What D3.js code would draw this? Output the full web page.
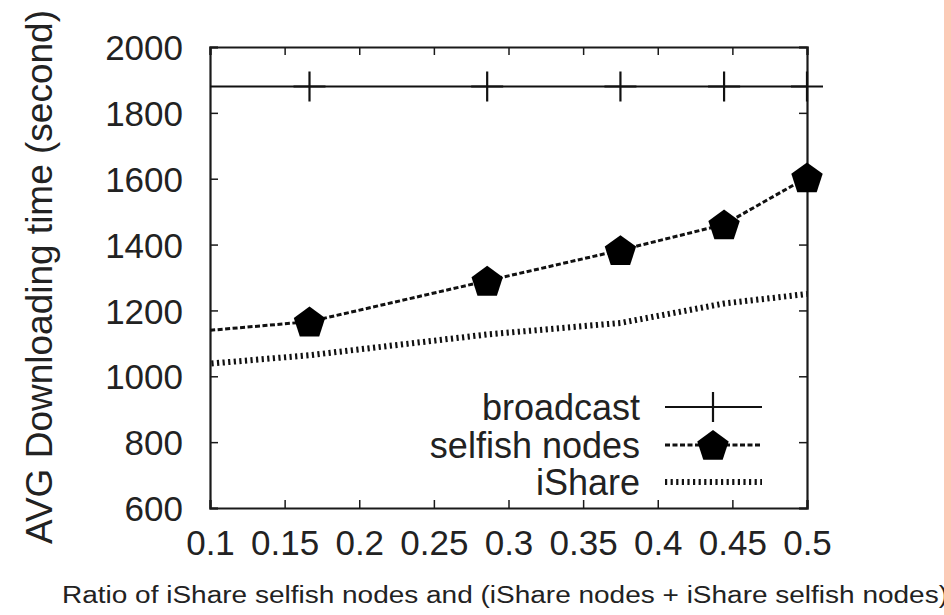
<!DOCTYPE html>
<html lang="en">
<head>
    <meta charset="UTF-8">
    <title>AVG Downloading time</title>
    <style>
        body {
            margin: 0;
            background-color: white;
            font-family: "Liberation Sans", Arial, sans-serif;
        }
        #strip {
            position: absolute;
            left: 944px;
            top: 0;
            width: 7px;
            height: 615px;
            background-color: #fccab7;
        }
    </style>
    <script src="https://d3js.org/d3.v7.min.js"></script>
</head>
<body>
    <div id="chart"></div>
    <div id="strip"></div>
    <script>
        // data (first point at x=0 lies outside the shown range)
        const ratios = [0, 1/6, 2/7, 3/8, 4/9, 1/2];
        const broadcast = [1880, 1880, 1880, 1880, 1880, 1880];
        const selfish = [1100, 1166, 1290, 1383, 1461, 1604];
        const ishare = [1000, 1064, 1127, 1162, 1221, 1250];

        const xTicks = [0.1, 0.15, 0.2, 0.25, 0.3, 0.35, 0.4, 0.45, 0.5];
        const yTicks = [600, 800, 1000, 1200, 1400, 1600, 1800, 2000];
        const legendNames = ["broadcast", "selfish nodes", "iShare"];

        const width = 951, height = 615;
        const plotLeft = 210, plotRight = 807, plotTop = 47, plotBottom = 508;
        const textColor = "#222";

        const svg = d3.select("#chart").append("svg")
            .attr("width", width)
            .attr("height", height)
            .style("display", "block");

        const x = d3.scaleLinear().domain([0.1, 0.5]).range([plotLeft, plotRight]);
        const y = d3.scaleLinear().domain([600, 2000]).range([plotBottom, plotTop]);

        svg.append("clipPath").attr("id", "plot")
            .append("rect")
            .attr("x", plotLeft).attr("y", plotTop)
            .attr("width", plotRight - plotLeft).attr("height", plotBottom - plotTop);

        // axes with inward ticks, gnuplot style box
        const tickFont = "35px";
        const xAxis = svg.append("g")
            .attr("transform", `translate(0,${plotBottom})`)
            .call(d3.axisBottom(x).tickValues(xTicks).tickSize(-8).tickPadding(22).tickFormat(d3.format("")));
        const xTop = svg.append("g")
            .attr("transform", `translate(0,${plotTop})`)
            .call(d3.axisTop(x).tickValues(xTicks).tickSize(-8).tickFormat(""));
        const yAxis = svg.append("g")
            .attr("transform", `translate(${plotLeft},0)`)
            .call(d3.axisLeft(y).tickValues(yTicks).tickSize(-8).tickPadding(27).tickFormat(d3.format("d")));
        const yRight = svg.append("g")
            .attr("transform", `translate(${plotRight},0)`)
            .call(d3.axisRight(y).tickValues(yTicks).tickSize(-8).tickFormat(""));

        [xAxis, xTop, yAxis, yRight].forEach(g => {
            g.select(".domain").attr("stroke", "#1a1a1a").attr("stroke-width", 2.2);
            g.selectAll(".tick line").attr("stroke", "#1a1a1a").attr("stroke-width", 1.5);
            g.selectAll("text")
                .attr("font-family", "'Liberation Sans', Arial, sans-serif")
                .attr("font-size", tickFont)
                .attr("fill", textColor);
        });
        yAxis.selectAll("text").attr("dy", "0.36em");

        // axis titles
        svg.append("text")
            .attr("transform", "translate(52,277) rotate(-90)")
            .attr("text-anchor", "middle")
            .attr("font-size", "37px")
            .attr("fill", textColor)
            .text("AVG Downloading time (second)");

        svg.append("text")
            .attr("x", 62)
            .attr("y", 603)
            .attr("font-size", "23px")
            .attr("fill", textColor)
            .attr("textLength", 886)
            .attr("lengthAdjust", "spacingAndGlyphs")
            .text("Ratio of iShare selfish nodes and (iShare nodes + iShare selfish nodes)");

        const line = d3.line().x(d => x(d[0])).y(d => y(d[1]));
        const pts = vals => ratios.map((r, i) => [r, vals[i]]);

        const styles = [
            { vals: broadcast, width: 2.2, dash: null, marker: "plus" },
            { vals: selfish, width: 3, dash: "5,2.5", marker: "pentagon" },
            { vals: ishare, width: 6, dash: "2.2,3.4", marker: null }
        ];

        function pentagon(r) {
            const p = d3.path();
            for (let k = 0; k < 5; k++) {
                const a = -Math.PI / 2 + k * 2 * Math.PI / 5;
                const px = r * Math.cos(a), py = r * Math.sin(a);
                if (k === 0) p.moveTo(px, py); else p.lineTo(px, py);
            }
            p.closePath();
            return p.toString();
        }

        function drawMarker(g, kind, cx, cy) {
            if (kind === "plus") {
                g.append("path")
                    .attr("d", `M${cx - 16},${cy}H${cx + 16}M${cx},${cy - 15}V${cy + 15}`)
                    .attr("stroke", "#111").attr("stroke-width", 2.2).attr("fill", "none");
            } else if (kind === "pentagon") {
                g.append("path")
                    .attr("d", pentagon(16.5))
                    .attr("transform", `translate(${cx},${cy + 1.5})`)
                    .attr("fill", "#000");
            }
        }

        // series lines
        const series = svg.append("g");
        styles.forEach(s => {
            series.append("path")
                .datum(pts(s.vals))
                .attr("clip-path", "url(#plot)")
                .attr("fill", "none")
                .attr("stroke", "#111")
                .attr("stroke-width", s.width)
                .attr("stroke-dasharray", s.dash)
                .attr("d", line);
            if (s.marker) {
                pts(s.vals).filter(d => d[0] >= 0.1).forEach(d => drawMarker(series, s.marker, x(d[0]), y(d[1])));
            }
        });

        // legend
        const legend = svg.append("g");
        const legendY = [407, 445, 482];
        styles.forEach((s, i) => {
            legend.append("text")
                .attr("x", 640)
                .attr("y", legendY[i] + 13)
                .attr("text-anchor", "end")
                .attr("font-size", "36px")
                .attr("fill", textColor)
                .text(legendNames[i]);
            legend.append("line")
                .attr("x1", 665).attr("x2", 762)
                .attr("y1", legendY[i]).attr("y2", legendY[i])
                .attr("stroke", "#111")
                .attr("stroke-width", s.width)
                .attr("stroke-dasharray", s.dash);
            if (s.marker) drawMarker(legend, s.marker, 713, legendY[i]);
        });
    </script>
</body>
</html>
